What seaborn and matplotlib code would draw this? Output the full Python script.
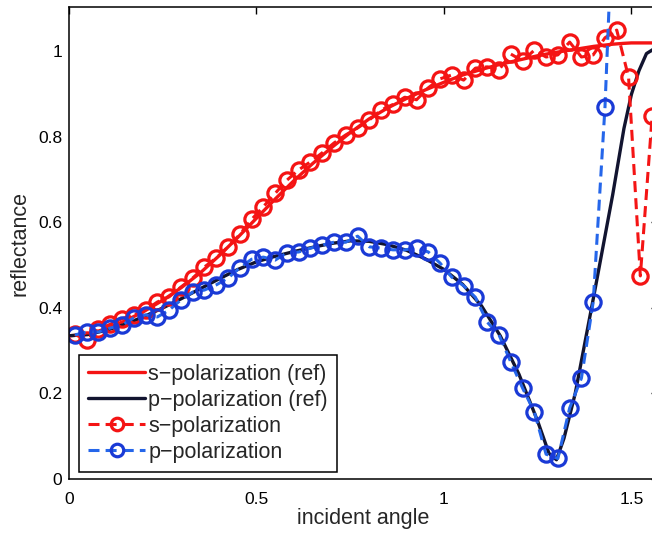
import numpy as np
import pandas as pd
import matplotlib
matplotlib.use("Agg")
import matplotlib.pyplot as plt
import seaborn as sns

# ---------------- data ----------------
# sampled points (circles)
x_pts = [0.0157, 0.0471, 0.0785, 0.1100, 0.1414, 0.1728, 0.2042, 0.2356, 0.2670, 0.2985,
         0.3299, 0.3613, 0.3927, 0.4241, 0.4555, 0.4869, 0.5184, 0.5498, 0.5812, 0.6126,
         0.6440, 0.6754, 0.7069, 0.7383, 0.7697, 0.8011, 0.8325, 0.8639, 0.8954, 0.9268,
         0.9582, 0.9896, 1.0210, 1.0524, 1.0838, 1.1153, 1.1467, 1.1781, 1.2095, 1.2409,
         1.2723, 1.3038, 1.3352, 1.3666, 1.3980, 1.4294, 1.4608, 1.4923, 1.5237, 1.5551]

s_pts = [0.338, 0.325, 0.350, 0.362, 0.375, 0.384, 0.395, 0.414, 0.426, 0.449,
         0.470, 0.496, 0.517, 0.543, 0.572, 0.607, 0.637, 0.668, 0.699, 0.723,
         0.742, 0.763, 0.786, 0.805, 0.821, 0.840, 0.863, 0.876, 0.893, 0.887,
         0.915, 0.936, 0.945, 0.933, 0.961, 0.964, 0.957, 0.994, 0.978, 1.003,
         0.987, 0.992, 1.022, 0.987, 0.992, 1.032, 1.050, 0.940, 0.475, 0.848]

p_pts = [0.337, 0.344, 0.344, 0.353, 0.360, 0.377, 0.384, 0.379, 0.395, 0.419,
         0.437, 0.442, 0.454, 0.470, 0.494, 0.514, 0.519, 0.512, 0.529, 0.531,
         0.540, 0.547, 0.554, 0.554, 0.568, 0.543, 0.540, 0.536, 0.536, 0.540,
         0.531, 0.505, 0.472, 0.452, 0.425, 0.367, 0.337, 0.274, 0.213, 0.157,
         0.058, 0.048, 0.166, 0.236, 0.414, 0.870, 1.550, 2.400, 3.000, 3.500]

# reference curves
x_ref = [0.00, 0.05, 0.10, 0.15, 0.20, 0.25, 0.30, 0.35, 0.40, 0.45,
         0.50, 0.55, 0.60, 0.65, 0.70, 0.75, 0.80, 0.85, 0.90, 0.95,
         1.00, 1.05, 1.10, 1.15, 1.20, 1.25, 1.28, 1.30, 1.32, 1.35,
         1.40, 1.45, 1.48, 1.50, 1.52, 1.54, 1.5708]

s_ref = [0.335, 0.338, 0.352, 0.370, 0.392, 0.418, 0.448, 0.482, 0.522, 0.565,
         0.610, 0.655, 0.698, 0.738, 0.775, 0.810, 0.842, 0.868, 0.890, 0.910,
         0.928, 0.945, 0.958, 0.970, 0.980, 0.990, 0.995, 0.998, 1.001, 1.005,
         1.012, 1.017, 1.019, 1.020, 1.020, 1.020, 1.020]

p_ref = [0.335, 0.338, 0.348, 0.362, 0.380, 0.400, 0.422, 0.445, 0.468, 0.490,
         0.508, 0.521, 0.532, 0.542, 0.551, 0.557, 0.556, 0.548, 0.535, 0.515,
         0.490, 0.455, 0.405, 0.335, 0.245, 0.135, 0.060, 0.045, 0.095, 0.200,
         0.430, 0.665, 0.820, 0.900, 0.955, 0.995, 1.012]

x_ticks = [0, 0.5, 1, 1.5]
x_ticklabels = ["0", "0.5", "1", "1.5"]
y_ticks = [0, 0.2, 0.4, 0.6, 0.8, 1.0]
y_ticklabels = ["0", "0.2", "0.4", "0.6", "0.8", "1"]

labels = ["s\u2212polarization (ref)", "p\u2212polarization (ref)",
          "s\u2212polarization", "p\u2212polarization"]

# ---------------- plot ----------------
sns.set_style("white")
plt.rcParams["font.family"] = ["Liberation Sans", "DejaVu Sans"]

fig = plt.figure(figsize=(6.52, 5.33), dpi=100)
W, H = 652, 533
x0_px, x1_px = 69, 658
y0_px, y1_px = 479, 7
ax = fig.add_axes([x0_px / W, (H - y0_px) / H, (x1_px - x0_px) / W, (y0_px - y1_px) / H])

red = "#f41414"
navy = "#121430"
blue_line = "#2566ea"
blue_mk = "#1a3ad6"

df_ref = pd.DataFrame({"x": x_ref, "s": s_ref, "p": p_ref})
df_pts = pd.DataFrame({"x": x_pts, "s": s_pts, "p": p_pts})

sns.lineplot(data=df_ref, x="x", y="s", ax=ax, color=red, lw=2.4,
             label=labels[0], sort=False, estimator=None)
sns.lineplot(data=df_ref, x="x", y="p", ax=ax, color=navy, lw=2.4,
             label=labels[1], sort=False, estimator=None)
sns.lineplot(data=df_pts, x="x", y="s", ax=ax, color=red, lw=2.2,
             linestyle=(0, (3.6, 2.0)), marker="o", markersize=11,
             markerfacecolor="none", markeredgecolor=red, markeredgewidth=2.3,
             label=labels[2], sort=False, estimator=None)
sns.lineplot(data=df_pts, x="x", y="p", ax=ax, color=blue_line, lw=2.2,
             linestyle=(0, (3.6, 2.0)), marker="o", markersize=11,
             markerfacecolor="none", markeredgecolor=blue_mk, markeredgewidth=2.3,
             label=labels[3], sort=False, estimator=None)

ax.set_xlim(0, np.pi / 2)
ax.set_ylim(0, 1.104)
ax.set_xticks(x_ticks)
ax.set_xticklabels(x_ticklabels)
ax.set_yticks(y_ticks)
ax.set_yticklabels(y_ticklabels)
ax.tick_params(direction="in", length=5, width=1, top=True, right=True,
               labelsize=12.5, colors="black")
ax.tick_params(axis="x", pad=9)
ax.tick_params(axis="y", pad=5)
for sp in ax.spines.values():
    sp.set_visible(True)
    sp.set_color("black")
    sp.set_linewidth(1.1)

ax.set_xlabel("incident angle", fontsize=15.5, labelpad=1)
ax.set_ylabel("reflectance", fontsize=15.5, labelpad=5)

leg = ax.legend(loc="upper left", bbox_to_anchor=(0.017, 0.263), borderaxespad=0,
                fontsize=15.5, frameon=True, fancybox=False, framealpha=1,
                edgecolor="black", handlelength=2.65, handletextpad=0.15,
                labelspacing=0.23, borderpad=0.42, numpoints=1)
leg.get_frame().set_linewidth(1.1)
for h in leg.legend_handles[2:]:
    h.set_markersize(9)

fig.savefig("out.png", dpi=100)
